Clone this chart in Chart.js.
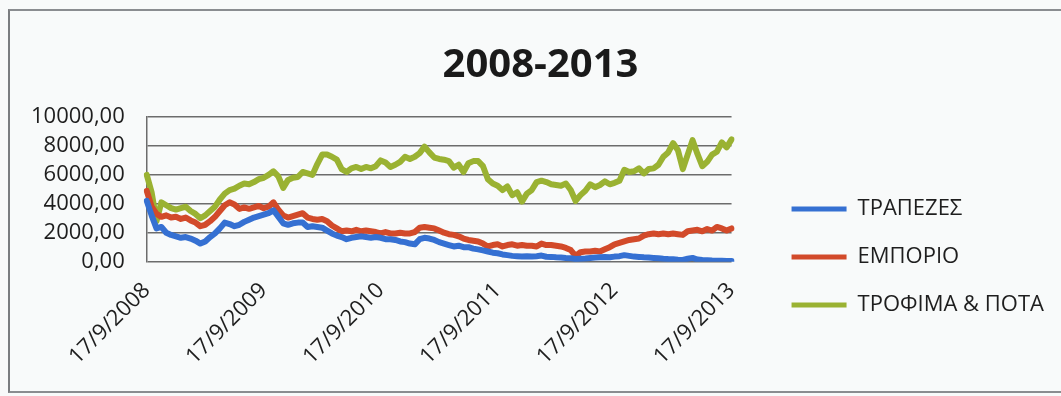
<!DOCTYPE html>
<html>
<head>
<meta charset="utf-8">
<title>2008-2013</title>
<script src="https://cdn.jsdelivr.net/npm/chart.js@4/dist/chart.umd.min.js"></script>
<style>
  html, body { margin: 0; padding: 0; background: #f8fafa; }
  .wrap { position: relative; width: 1061px; height: 396px; }
  .frame {
    position: absolute; left: 8px; top: 9px; right: -4px; bottom: 3px;
    border-left: 2px solid #7a7d80; border-top: 2px solid #8a8d90; border-bottom: 2px solid #8a8d90;
    pointer-events: none;
  }
  canvas { display: block; }
</style>
</head>
<body>
<div class="wrap">
  <canvas id="indexChart" width="1061" height="396"></canvas>
  <div class="frame"></div>
</div>
<script>
// Series names and year tick labels
const seriesNames = ['ΤΡΑΠΕΖΕΣ', 'ΕΜΠΟΡΙΟ', 'ΤΡΟΦΙΜΑ & ΠΟΤΑ'];
const yearTicks = ['17/9/2008', '17/9/2009', '17/9/2010', '17/9/2011', '17/9/2012', '17/9/2013'];
const pointsPerYear = 24;

// Index levels, roughly twice a month from 17/9/2008 to 17/9/2013
const banks = [
  4200, 3200, 2300, 2400, 2000, 1850, 1750, 1650, 1700, 1600,
  1450, 1250, 1400, 1700, 1950, 2300, 2700, 2600, 2450, 2550,
  2750, 2900, 3050, 3150, 3250, 3350, 3550, 3100, 2650, 2550,
  2650, 2700, 2700, 2400, 2450, 2400, 2350, 2150, 1950, 1800,
  1700, 1550, 1650, 1700, 1750, 1700, 1650, 1700, 1650, 1550,
  1550, 1500, 1400, 1350, 1250, 1200, 1550, 1650, 1600, 1500,
  1350, 1250, 1150, 1050, 1100, 1000, 1000, 900, 850, 780,
  700, 620, 580, 500, 450, 400, 380, 360, 380, 350,
  380, 420, 340, 330, 300, 280, 250, 230, 180, 200,
  220, 250, 280, 300, 320, 300, 350, 380, 450, 400,
  350, 330, 300, 280, 260, 230, 200, 180, 170, 140,
  120, 200, 260, 150, 110, 100, 80, 70, 60, 50,
  40
];
const trade = [
  4900, 3800, 3300, 3100, 3200, 3050, 3100, 2950, 3050, 2850,
  2700, 2450, 2550, 2800, 3100, 3500, 3900, 4100, 3950, 3650,
  3750, 3650, 3750, 3850, 3700, 3800, 4100, 3600, 3200, 3050,
  3150, 3250, 3350, 3050, 2950, 2900, 2950, 2800, 2500, 2300,
  2100, 2150, 2100, 2200, 2100, 2150, 2100, 2050, 1950, 2050,
  1950, 1950, 2000, 1950, 1950, 2050, 2350, 2400, 2350, 2300,
  2150, 2000, 1900, 1850, 1750, 1600, 1500, 1450, 1400, 1250,
  1050, 1150, 1200, 1050, 1150, 1200, 1100, 1150, 1100, 1100,
  1050, 1250, 1150, 1150, 1100, 1050, 950, 800, 400, 650,
  700, 700, 750, 700, 850, 1000, 1200, 1300, 1400, 1500,
  1550, 1600, 1800, 1900, 1950, 1900, 1950, 1900, 1950, 1900,
  1850, 2100, 2150, 2200, 2100, 2250, 2150, 2400, 2300, 2150,
  2300
];
const foodDrinks = [
  6000, 4800, 2800, 4100, 3900, 3700, 3600, 3700, 3800, 3500,
  3300, 3000, 3200, 3500, 3800, 4300, 4700, 4950, 5050, 5250,
  5400, 5350, 5500, 5700, 5800, 6000, 6250, 5900, 5100, 5650,
  5800, 5850, 6200, 6100, 6000, 6750, 7400, 7400, 7250, 7050,
  6400, 6200, 6450, 6550, 6400, 6550, 6450, 6600, 7000, 6850,
  6550, 6700, 6900, 7250, 7100, 7250, 7500, 7950, 7550, 7200,
  7100, 7050, 6950, 6500, 6700, 6200, 6800, 6950, 6950, 6600,
  5700, 5400, 5250, 4950, 5200, 4600, 4800, 4150, 4700, 4950,
  5500, 5600, 5500, 5350, 5300, 5250, 5400, 4950, 4200, 4600,
  4900, 5350, 5150, 5300, 5550, 5350, 5450, 5600, 6350, 6200,
  6250, 6450, 6100, 6400, 6450, 6700, 7250, 7550, 8200, 7700,
  6400, 7400, 8400, 7450, 6600, 6900, 7400, 7600, 8250, 7900,
  8450
];
const seriesColors = ['#3570d2', '#d24a2a', '#9ab232'];

// Category labels: only the yearly dates carry text
const labels = banks.map((_, i) => (i % pointsPerYear === 0 ? yearTicks[i / pointsPerYear] : ''));

const FONT = "'Open Sans', 'Noto Sans', sans-serif";
Chart.defaults.font.family = FONT;
Chart.defaults.color = '#1e1e1e';

// Nudges the title and legend blocks after layout
const boxShift = {
  id: 'boxShift',
  afterLayout(chart, args, opts) {
    const move = (box, s) => {
      if (!box || !s) return;
      box.left += s.dx || 0; box.right += s.dx || 0;
      box.top += s.dy || 0; box.bottom += s.dy || 0;
    };
    move(chart.legend, opts.legend);
    move(chart.titleBlock, opts.title);
  }
};

const ctx = document.getElementById('indexChart').getContext('2d');
new Chart(ctx, {
  type: 'line',
  data: {
    labels: labels,
    datasets: [banks, trade, foodDrinks].map((values, k) => ({
      label: seriesNames[k],
      data: values,
      borderColor: seriesColors[k],
      backgroundColor: seriesColors[k],
      borderWidth: 6,
      borderJoinStyle: 'round',
      borderCapStyle: 'round',
      pointRadius: 0,
      tension: 0
    }))
  },
  plugins: [boxShift],
  options: {
    responsive: false,
    animation: false,
    layout: { autoPadding: false, padding: { left: 9, right: 41, top: 42, bottom: 18 } },
    plugins: {
      boxShift: { legend: { dx: 34, dy: 47 }, title: { dx: 26 } },
      title: {
        display: true,
        text: '2008-2013',
        font: { size: 40, weight: 'bold' },
        color: '#1a1a1a',
        padding: { top: 0, bottom: 27 }
      },
      legend: {
        position: 'right',
        maxWidth: 400,
        labels: {
          boxWidth: 55,
          boxHeight: 5,
          padding: 26,
          font: { size: 22 },
          color: '#1e1e1e',
          generateLabels(chart) {
            return Chart.defaults.plugins.legend.labels.generateLabels(chart)
              .map(item => ({ ...item, lineWidth: 0 }));
          }
        }
      },
      tooltip: { enabled: false }
    },
    scales: {
      x: {
        grid: { display: false },
        border: { display: false },
        afterFit(scale) {
          // the rotated first label may hang past the plot edge
          scale.paddingLeft = 0;
          scale.paddingRight = 0;
        },
        ticks: {
          autoSkip: false,
          maxRotation: 45,
          minRotation: 45,
          padding: 8,
          font: { size: 22 },
          color: '#1e1e1e'
        }
      },
      y: {
        min: 0,
        max: 10000,
        grid: { color: '#6c6c6c', lineWidth: 1.5, drawTicks: false },
        border: { display: true, color: '#6c6c6c', width: 1.5 },
        ticks: {
          stepSize: 2000,
          autoSkip: false,
          padding: 22,
          font: { size: 22 },
          color: '#1e1e1e',
          callback: v => v + ',00'
        }
      }
    }
  }
});
</script>
</body>
</html>
